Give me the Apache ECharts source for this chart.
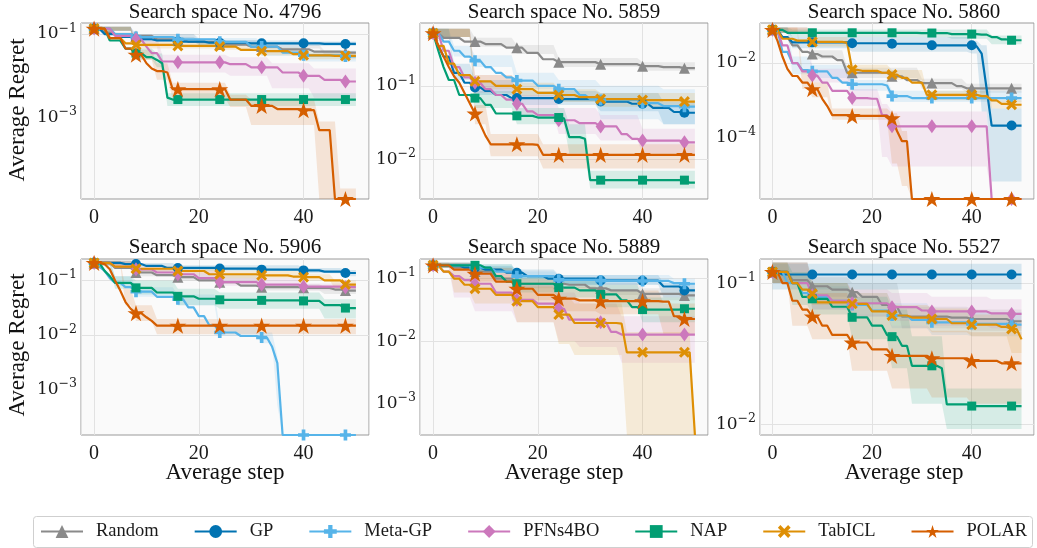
<!DOCTYPE html>
<html>
<head>
<meta charset="utf-8">
<script src="https://cdn.jsdelivr.net/npm/echarts@6.0.0/dist/echarts.min.js"></script>
<style>
html,body{margin:0;padding:0;background:#fff;}
#chart{width:1037px;height:548px;}
</style>
</head>
<body>
<div id="chart"></div>
<script>
// ---------------- data ----------------
const METHODS = ['Random', 'GP', 'Meta-GP', 'PFNs4BO', 'NAP', 'TabICL', 'POLAR'];
const PANELS = [4796, 5859, 5860, 5906, 5889, 5527];
const X_TICKS = [0, 20, 40];
const STEPS = Array.from({length: 51}, (_, i) => i);   // steps 0..50
// y-axis (log) ranges and labelled decades per panel, same order as PANELS
const Y_RANGE = [[1.12e-5, 0.184], [2.88e-3, 0.716], [2.24e-6, 0.119], [1.43e-4, 0.248], [3.12e-4, 0.207], [8.43e-3, 0.148]];
const Y_TICKS = [[1e-1, 1e-3], [1e-1, 1e-2], [1e-2, 1e-4], [1e-1, 1e-2, 1e-3], [1e-1, 1e-2, 1e-3], [1e-1, 1e-2]];

// mean regret: [step from which the value holds, value]
const MEAN_4796 = {
  Random: [[0,0.135],[2,0.11],[4,0.1],[8,0.09],[12,0.075],[18,0.065],[24,0.056],[30,0.05],[36,0.043],[42,0.038],[48,0.036]],
  GP: [[0,0.135],[2,0.1],[5,0.085],[8,0.075],[12,0.07],[16,0.066],[22,0.062],[30,0.06],[44,0.058]],
  'Meta-GP': [[0,0.135],[4,0.1],[8,0.085],[16,0.075],[24,0.065],[30,0.05],[36,0.036],[40,0.031],[48,0.029]],
  PFNs4BO: [[0,0.135],[4,0.09],[8,0.075],[10,0.05],[11,0.035],[13,0.022],[16,0.021],[26,0.019],[30,0.016],[36,0.012],[40,0.01],[44,0.008],[48,0.0073]],
  NAP: [[0,0.135],[3,0.07],[6,0.045],[8,0.035],[10,0.028],[12,0.024],[13,0.02],[14,0.003],[15,0.0027]],
  TabICL: [[0,0.135],[3,0.08],[6,0.06],[8,0.055],[16,0.052],[24,0.05],[28,0.042],[32,0.039],[38,0.033],[40,0.031],[46,0.03]],
  POLAR: [[0,0.135],[3,0.08],[6,0.045],[8,0.032],[10,0.02],[11,0.015],[12,0.013],[14,0.012],[15,0.0048],[26,0.0027],[30,0.0019],[35,0.0016],[40,0.0015],[43,0.0005],[46,1.12e-5]]
};
const MEAN_5859 = {
  Random: [[0,0.52],[2,0.45],[6,0.4],[10,0.37],[14,0.33],[18,0.28],[21,0.23],[24,0.21],[32,0.197],[40,0.185],[44,0.18],[48,0.174]],
  GP: [[0,0.52],[1,0.35],[2,0.25],[4,0.15],[6,0.11],[8,0.095],[10,0.085],[12,0.075],[15,0.068],[24,0.066],[32,0.061],[38,0.057],[42,0.05],[46,0.044],[48,0.043]],
  'Meta-GP': [[0,0.52],[2,0.4],[4,0.3],[6,0.25],[8,0.22],[10,0.18],[12,0.15],[14,0.13],[16,0.118],[20,0.1],[24,0.09],[28,0.075],[30,0.066],[32,0.064],[40,0.058],[44,0.053],[48,0.052]],
  PFNs4BO: [[0,0.52],[2,0.3],[4,0.18],[6,0.13],[8,0.11],[10,0.09],[12,0.075],[14,0.065],[16,0.057],[18,0.045],[20,0.04],[24,0.034],[28,0.031],[32,0.028],[36,0.022],[38,0.019],[40,0.018],[48,0.017]],
  NAP: [[0,0.52],[1,0.3],[2,0.18],[3,0.12],[5,0.075],[8,0.068],[10,0.055],[12,0.042],[16,0.039],[20,0.037],[25,0.036],[26,0.02],[29,0.019],[30,0.0052],[49,0.0048]],
  TabICL: [[0,0.52],[1,0.35],[3,0.2],[5,0.14],[8,0.115],[12,0.1],[16,0.09],[20,0.08],[24,0.075],[28,0.07],[32,0.066],[40,0.064],[48,0.061]],
  POLAR: [[0,0.52],[1,0.35],[2,0.25],[3,0.18],[4,0.135],[5,0.11],[6,0.08],[7,0.058],[8,0.042],[9,0.03],[10,0.021],[11,0.016],[20,0.0157],[21,0.0115]]
};
const MEAN_5860 = {
  Random: [[0,0.078],[2,0.05],[4,0.03],[6,0.02],[8,0.0174],[10,0.015],[13,0.012],[15,0.0055],[24,0.0044],[27,0.0035],[30,0.0029],[37,0.0024],[39,0.0021]],
  GP: [[0,0.078],[2,0.05],[4,0.036],[16,0.034],[24,0.033],[32,0.03],[41,0.028],[42,0.018],[43,0.002],[44,0.00021]],
  'Meta-GP': [[0,0.078],[2,0.02],[4,0.01],[6,0.0065],[8,0.006],[12,0.004],[14,0.003],[16,0.0027],[23,0.0025],[24,0.0013],[28,0.00115]],
  PFNs4BO: [[0,0.078],[2,0.03],[4,0.01],[6,0.006],[8,0.0046],[10,0.003],[12,0.0018],[16,0.00115],[20,0.0011],[22,0.0004],[24,0.0002],[43,0.0002],[44,2.24e-6]],
  NAP: [[0,0.078],[3,0.065],[30,0.064],[36,0.06],[42,0.058],[44,0.05],[46,0.043],[48,0.041]],
  TabICL: [[0,0.078],[2,0.045],[5,0.04],[8,0.037],[15,0.035],[16,0.0066],[18,0.0062],[22,0.0055],[24,0.0049],[26,0.004],[28,0.003],[31,0.0014],[42,0.0013],[44,0.001],[46,0.0008],[48,0.00076]],
  POLAR: [[0,0.078],[1,0.04],[2,0.015],[3,0.007],[4,0.0045],[6,0.003],[8,0.002],[10,0.0011],[11,0.0007],[12,0.0004],[16,0.00038],[24,0.00033],[25,0.00015],[26,0.00008],[28,2.24e-6]]
};
const MEAN_5906 = {
  Random: [[0,0.21],[4,0.17],[8,0.14],[12,0.125],[16,0.115],[20,0.1],[24,0.093],[28,0.08],[32,0.075],[40,0.073],[46,0.068],[48,0.065]],
  GP: [[0,0.21],[6,0.2],[10,0.185],[14,0.17],[24,0.165],[32,0.158],[40,0.153],[44,0.145],[48,0.137]],
  'Meta-GP': [[0,0.21],[1,0.18],[2,0.15],[3,0.11],[4,0.09],[6,0.075],[8,0.062],[12,0.05],[16,0.045],[18,0.032],[20,0.022],[22,0.015],[24,0.011],[28,0.0095],[32,0.0089],[34,0.006],[35,0.003],[36,1.43e-4]],
  PFNs4BO: [[0,0.21],[4,0.18],[8,0.16],[12,0.14],[16,0.13],[20,0.11],[24,0.093],[32,0.084],[40,0.077],[48,0.075]],
  NAP: [[0,0.21],[2,0.15],[3,0.12],[4,0.09],[8,0.073],[12,0.06],[16,0.051],[20,0.046],[24,0.044],[32,0.043],[40,0.042],[44,0.035],[48,0.031]],
  TabICL: [[0,0.21],[4,0.18],[8,0.164],[16,0.149],[22,0.13],[32,0.124],[38,0.118],[40,0.115],[44,0.1],[48,0.084]],
  POLAR: [[0,0.21],[2,0.2],[3,0.16],[4,0.1],[5,0.065],[6,0.04],[7,0.03],[8,0.025],[10,0.021],[11,0.018],[12,0.0147]]
};
const MEAN_5889 = {
  Random: [[0,0.164],[4,0.15],[8,0.13],[12,0.1],[16,0.083],[26,0.08],[30,0.07],[34,0.065],[40,0.057],[48,0.054]],
  GP: [[0,0.164],[6,0.15],[10,0.14],[14,0.125],[18,0.11],[22,0.1],[32,0.094],[40,0.093],[44,0.075],[48,0.065]],
  'Meta-GP': [[0,0.164],[8,0.15],[12,0.13],[16,0.11],[24,0.096],[32,0.093],[40,0.092],[46,0.085],[48,0.083]],
  PFNs4BO: [[0,0.164],[2,0.13],[4,0.11],[6,0.095],[8,0.083],[12,0.06],[16,0.046],[20,0.04],[24,0.033],[26,0.022],[32,0.02],[34,0.014],[36,0.0127]],
  NAP: [[0,0.164],[10,0.15],[12,0.11],[14,0.09],[16,0.083],[24,0.072],[28,0.065],[32,0.056],[36,0.045],[38,0.035],[40,0.032],[48,0.033]],
  TabICL: [[0,0.164],[2,0.13],[4,0.1],[6,0.08],[8,0.069],[12,0.055],[16,0.0436],[20,0.035],[24,0.0266],[27,0.0195],[36,0.019],[37,0.0066],[49,0.0066],[50,3.12e-4]],
  POLAR: [[0,0.164],[4,0.14],[8,0.12],[12,0.09],[16,0.069],[20,0.055],[24,0.048],[28,0.045],[32,0.0436],[44,0.043],[46,0.025],[48,0.0226]]
};
const MEAN_5527 = {
  Random: [[0,0.12],[4,0.105],[8,0.095],[12,0.09],[16,0.0863],[18,0.08],[22,0.07],[24,0.068],[26,0.058],[36,0.057],[40,0.0557],[48,0.0537]],
  GP: [[0,0.12],[2,0.115]],
  'Meta-GP': [[0,0.12],[3,0.1],[6,0.085],[8,0.08],[12,0.075],[16,0.07],[20,0.064],[24,0.059],[28,0.055],[32,0.0528],[40,0.0514],[48,0.0508]],
  PFNs4BO: [[0,0.12],[4,0.1],[8,0.082],[12,0.075],[16,0.072],[24,0.0675],[30,0.064],[32,0.063],[44,0.061],[48,0.0605]],
  NAP: [[0,0.12],[4,0.1],[6,0.08],[8,0.0774],[12,0.068],[16,0.0573],[20,0.05],[23,0.043],[24,0.0418],[26,0.036],[28,0.026],[34,0.025],[35,0.0139],[40,0.0135]],
  TabICL: [[0,0.12],[4,0.1],[6,0.09],[8,0.084],[9,0.073],[16,0.0713],[20,0.063],[24,0.059],[28,0.057],[32,0.0557],[36,0.052],[40,0.0508],[46,0.049],[48,0.0473],[50,0.04]],
  POLAR: [[0,0.12],[2,0.1],[4,0.075],[6,0.065],[8,0.058],[10,0.05],[12,0.043],[16,0.038],[20,0.034],[24,0.0306],[32,0.0294],[40,0.0282],[46,0.0271]]
};

// uncertainty bands: [step from which it holds, lower, upper]
const BAND_4796 = {
  Random: [[0,0.12,0.15],[4,0.09,0.11],[8,0.08,0.1],[20,0.058,0.072],[32,0.045,0.055],[44,0.032,0.04]],
  GP: [[0,0.12,0.15],[8,0.065,0.085],[20,0.055,0.07],[40,0.052,0.066]],
  'Meta-GP': [[0,0.12,0.15],[8,0.07,0.1],[20,0.055,0.08],[32,0.03,0.06],[40,0.022,0.04]],
  PFNs4BO: [[0,0.12,0.15],[8,0.05,0.09],[13,0.012,0.032],[26,0.01,0.028],[34,0.005,0.02],[42,0.003,0.015]],
  NAP: [[0,0.12,0.15],[8,0.025,0.045],[12,0.016,0.034],[14,0.0019,0.0038]],
  TabICL: [[0,0.12,0.15],[8,0.045,0.065],[24,0.042,0.058],[32,0.031,0.047],[40,0.025,0.036]],
  POLAR: [[0,0.12,0.15],[8,0.024,0.042],[12,0.008,0.02],[15,0.0029,0.0068],[26,0.0018,0.0035],[30,0.00066,0.0027],[43,1.12e-5,0.0008],[47,1.12e-5,0.00002]]
};
const BAND_5859 = {
  Random: [[0,0.46,0.6],[8,0.34,0.45],[16,0.27,0.36],[24,0.18,0.24],[40,0.16,0.21]],
  GP: [[0,0.46,0.6],[4,0.12,0.2],[8,0.075,0.12],[16,0.055,0.085],[32,0.045,0.08],[44,0.03,0.06]],
  'Meta-GP': [[0,0.46,0.6],[4,0.25,0.35],[8,0.18,0.26],[16,0.09,0.15],[24,0.06,0.12],[32,0.035,0.1],[44,0.03,0.09]],
  PFNs4BO: [[0,0.46,0.6],[8,0.08,0.14],[16,0.04,0.075],[24,0.022,0.05],[32,0.018,0.04],[40,0.012,0.026]],
  NAP: [[0,0.46,0.6],[8,0.05,0.085],[16,0.03,0.05],[26,0.012,0.03],[30,0.004,0.007]],
  TabICL: [[0,0.46,0.6],[8,0.09,0.14],[16,0.072,0.11],[24,0.06,0.09],[32,0.052,0.08]],
  POLAR: [[0,0.46,0.6],[8,0.03,0.055],[11,0.011,0.022],[21,0.0075,0.016]]
};
const BAND_5860 = {
  Random: [[0,0.065,0.09],[8,0.013,0.022],[15,0.004,0.0075],[30,0.002,0.0038],[39,0.0016,0.0028]],
  GP: [[0,0.065,0.09],[4,0.025,0.05],[16,0.02,0.05],[40,0.018,0.04],[42,0.0005,0.03],[44,0.0000066,0.0006]],
  'Meta-GP': [[0,0.065,0.09],[4,0.005,0.015],[8,0.004,0.009],[16,0.0018,0.0035],[24,0.0009,0.0018]],
  PFNs4BO: [[0,0.065,0.09],[8,0.003,0.007],[16,0.0007,0.002],[22,0.00003,0.0008],[24,0.0000166,0.0005],[44,2.24e-6,2.24e-6]],
  NAP: [[0,0.065,0.09],[4,0.05,0.08],[36,0.045,0.08],[44,0.032,0.055]],
  TabICL: [[0,0.065,0.09],[8,0.028,0.05],[16,0.005,0.009],[24,0.0035,0.0065],[31,0.001,0.0018],[44,0.0006,0.001]],
  POLAR: [[0,0.065,0.09],[6,0.002,0.006],[8,0.0012,0.003],[12,0.0003,0.0006],[24,0.00002,0.00045],[26,0.000005,0.00015],[28,2.24e-6,2.24e-6]]
};
const BAND_5906 = {
  Random: [[0,0.19,0.23],[8,0.12,0.16],[16,0.1,0.13],[32,0.065,0.085],[44,0.056,0.076]],
  GP: [[0,0.19,0.23],[8,0.18,0.21],[16,0.15,0.19],[40,0.135,0.17],[48,0.12,0.155]],
  'Meta-GP': [[0,0.19,0.23],[4,0.08,0.12],[8,0.05,0.075],[16,0.035,0.055],[24,0.0095,0.014],[32,0.007,0.011],[35,0.0005,0.004],[36,1.43e-4,1.43e-4]],
  PFNs4BO: [[0,0.19,0.23],[8,0.14,0.18],[16,0.11,0.15],[24,0.08,0.11],[40,0.066,0.088]],
  NAP: [[0,0.19,0.23],[4,0.07,0.12],[8,0.055,0.1],[16,0.035,0.07],[24,0.03,0.06],[44,0.02,0.045]],
  TabICL: [[0,0.19,0.23],[8,0.145,0.18],[16,0.13,0.17],[24,0.11,0.15],[40,0.1,0.13],[46,0.07,0.1]],
  POLAR: [[0,0.19,0.23],[6,0.035,0.07],[8,0.018,0.035],[12,0.0102,0.0195]]
};
const BAND_5889 = {
  Random: [[0,0.15,0.18],[8,0.11,0.15],[16,0.07,0.1],[32,0.055,0.085],[40,0.045,0.07]],
  GP: [[0,0.15,0.18],[8,0.13,0.16],[16,0.1,0.14],[24,0.08,0.115],[44,0.05,0.085]],
  'Meta-GP': [[0,0.15,0.18],[8,0.13,0.17],[16,0.09,0.13],[24,0.08,0.115],[46,0.07,0.1]],
  PFNs4BO: [[0,0.15,0.18],[4,0.05,0.15],[8,0.03,0.12],[16,0.02,0.08],[24,0.01,0.06],[28,0.008,0.04],[36,0.0045,0.025]],
  NAP: [[0,0.15,0.18],[8,0.13,0.17],[16,0.06,0.11],[24,0.05,0.1],[32,0.035,0.08],[40,0.02,0.05]],
  TabICL: [[0,0.15,0.18],[4,0.06,0.14],[8,0.04,0.11],[16,0.02,0.075],[24,0.009,0.05],[27,0.006,0.04],[37,3.12e-4,0.014],[50,3.12e-4,3.12e-4]],
  POLAR: [[0,0.15,0.18],[8,0.09,0.15],[16,0.045,0.1],[24,0.03,0.075],[32,0.027,0.065],[44,0.013,0.04]]
};
const BAND_5527 = {
  Random: [[0,0.1,0.14],[8,0.08,0.11],[16,0.07,0.1],[26,0.048,0.068],[40,0.046,0.065]],
  GP: [[0,0.09,0.137]],
  'Meta-GP': [[0,0.1,0.14],[8,0.065,0.095],[16,0.058,0.085],[24,0.048,0.072],[32,0.043,0.064],[40,0.042,0.062]],
  PFNs4BO: [[0,0.1,0.14],[8,0.065,0.1],[16,0.058,0.09],[24,0.054,0.085],[32,0.05,0.08],[44,0.048,0.077]],
  NAP: [[0,0.1,0.14],[4,0.07,0.12],[8,0.06,0.1],[16,0.04,0.08],[24,0.025,0.065],[28,0.014,0.042],[35,0.0093,0.018]],
  TabICL: [[0,0.1,0.14],[8,0.07,0.1],[16,0.06,0.085],[24,0.05,0.07],[32,0.045,0.066],[40,0.042,0.06],[48,0.032,0.055]],
  POLAR: [[0,0.1,0.14],[4,0.05,0.1],[8,0.04,0.085],[16,0.024,0.06],[24,0.018,0.05],[32,0.0155,0.046],[40,0.014,0.045]]
};
const MEANS = [MEAN_4796, MEAN_5859, MEAN_5860, MEAN_5906, MEAN_5889, MEAN_5527];
const BANDS = [BAND_4796, BAND_5859, BAND_5860, BAND_5906, BAND_5889, BAND_5527];

// ---------------- style ----------------
const FONT = '"Liberation Serif", "Times New Roman", serif';
const MATH_FONT = '"DejaVu Serif", serif';
const GRID_COLOR = '#e2e2e2';
const COLORS = {Random: '#8a8a8a', GP: '#0173B2', 'Meta-GP': '#56B4E9', PFNs4BO: '#CC78BC', NAP: '#029E73', TabICL: '#DE8F05', POLAR: '#D55E00'};
const SYMBOLS = {
  Random: 'triangle',
  GP: 'circle',
  'Meta-GP': 'path://M3,0H6V3H9V6H6V9H3V6H0V3H3Z',
  PFNs4BO: 'diamond',
  NAP: 'rect',
  TabICL: 'path://M0,2L2,0L5,3L8,0L10,2L7,5L10,8L8,10L5,7L2,10L0,8L3,5Z',
  POLAR: 'path://M50,0L61.2,34.5L97.6,34.5L68.2,55.9L79.4,90.5L50,69.1L20.6,90.5L31.8,55.9L2.4,34.5L38.8,34.5Z'
};
const SIZES = {Random: 11, GP: 10, 'Meta-GP': 11, PFNs4BO: [10, 14], NAP: 9, TabICL: 11, POLAR: 17};
const COL_LEFT = [81, 420, 760];
const ROW_TOP = [23, 259];
const PW = 288, PH = 176;

function hold(cp, k) {
  return STEPS.map(s => { let r = cp[0]; for (const c of cp) if (c[0] <= s) r = c; return r[k]; });
}
function makeLogLabel(ticks) {
  return v => {
    const l = Math.log10(v), r = Math.round(l);
    if (Math.abs(l - r) > 1e-6) return '';
    if (!ticks.some(t => Math.round(Math.log10(t)) === r)) return '';
    return '{b|10}{s|' + (r < 0 ? '\u2212' : '') + Math.abs(r) + '}';
  };
}

const grids = [], xAxes = [], yAxes = [], series = [], graphics = [];
PANELS.forEach((p, pi) => {
  const col = pi % 3, row = Math.floor(pi / 3);
  grids.push({left: COL_LEFT[col], top: ROW_TOP[row], width: PW, height: PH, show: true,
    backgroundColor: '#fafafa', borderColor: '#9a9a9a', borderWidth: 1});
  xAxes.push({gridIndex: pi, type: 'value', min: -2.5, max: 52.5, minInterval: 20, maxInterval: 20,
    axisLine: {show: false}, axisTick: {show: false},
    splitLine: {show: true, lineStyle: {color: GRID_COLOR, width: 1}},
    axisLabel: {formatter: v => X_TICKS.includes(v) ? String(v) : '', fontFamily: FONT, fontSize: 20, color: '#1a1a1a', margin: 9}});
  yAxes.push({gridIndex: pi, type: 'log', logBase: 10, min: Y_RANGE[pi][0], max: Y_RANGE[pi][1],
    axisLine: {show: false}, axisTick: {show: false}, minorTick: {show: false},
    splitLine: {show: false},
    axisLabel: {formatter: makeLogLabel(Y_TICKS[pi]), margin: 4, color: '#1a1a1a',
      rich: {b: {fontFamily: MATH_FONT, fontSize: 17, color: '#1a1a1a', lineHeight: 24},
             s: {fontFamily: MATH_FONT, fontSize: 12.5, color: '#1a1a1a', verticalAlign: 'top', lineHeight: 13}}}});
  // horizontal grid lines at the labelled decades
  series.push({type: 'line', name: '', xAxisIndex: pi, yAxisIndex: pi, z: 1, silent: true, animation: false,
    data: [], markLine: {silent: true, animation: false, symbol: ['none', 'none'], z: 1, label: {show: false},
      lineStyle: {color: GRID_COLOR, width: 1, type: 'solid'}, emphasis: {disabled: true},
      data: Y_TICKS[pi].map(t => ({yAxis: t}))}});
  METHODS.forEach(m => {
    const lo = hold(BANDS[pi][m], 1), hi = hold(BANDS[pi][m], 2);
    series.push({type: 'custom', xAxisIndex: pi, yAxisIndex: pi, z: 2, silent: true, animation: false,
      data: [[0, Y_RANGE[pi][1]]],
      renderItem: (params, api) => {
        const cs = params.coordSys;
        const clampY = y => Math.max(cs.y, Math.min(cs.y + cs.height, y));
        const up = [], dn = [];
        STEPS.forEach((s, i) => {
          const a = api.coord([s, hi[i]]); up.push([a[0], clampY(a[1])]);
          const b = api.coord([s, lo[i]]); dn.push([b[0], clampY(b[1])]);
        });
        return {type: 'polygon', shape: {points: up.concat(dn.reverse())},
          style: {fill: COLORS[m], opacity: 0.14}};
      }});
  });
  METHODS.forEach(m => {
    const vals = hold(MEANS[pi][m], 1);
    series.push({type: 'line', name: m, xAxisIndex: pi, yAxisIndex: pi, z: 3, silent: true, animation: false,
      data: STEPS.map((s, i) => [s, vals[i]]),
      symbol: SYMBOLS[m], symbolKeepAspect: true, showSymbol: true, showAllSymbol: true,
      symbolSize: (v, params) => params.dataIndex % 8 === 0 ? SIZES[m] : 0,
      lineStyle: {width: 2.2, color: COLORS[m]}, itemStyle: {color: COLORS[m]},
      emphasis: {disabled: true}});
  });
  graphics.push({type: 'text', x: COL_LEFT[col] + PW / 2, y: row === 0 ? 12.5 : 247,
    style: {text: 'Search space No. ' + p, font: '21px ' + FONT, fill: '#111', textAlign: 'center', textVerticalAlign: 'middle', verticalAlign: 'middle'}});
  if (row === 1) graphics.push({type: 'text', x: COL_LEFT[col] + PW / 2, y: 473,
    style: {text: 'Average step', font: '23px ' + FONT, fill: '#111', textAlign: 'center', textVerticalAlign: 'middle', verticalAlign: 'middle'}});
  if (col === 0) graphics.push({type: 'text', x: 17.5, y: row === 0 ? 110 : 345, rotation: Math.PI / 2,
    style: {text: 'Average Regret', font: '23px ' + FONT, fill: '#111', textAlign: 'center', textVerticalAlign: 'middle', verticalAlign: 'middle'}});
});
graphics.push({type: 'rect', z: -1, shape: {x: 33.5, y: 516.5, width: 999, height: 31, r: 3},
  style: {fill: '#ffffff', stroke: '#cfcfcf', lineWidth: 1}});

const chart = echarts.init(document.getElementById('chart'), null, {renderer: 'canvas'});
chart.setOption({
  backgroundColor: '#ffffff',
  animation: false,
  grid: grids, xAxis: xAxes, yAxis: yAxes, series: series,
  graphic: graphics,
  legend: {data: METHODS, left: 40, top: 522, width: 997, itemWidth: 42, itemHeight: 16, itemGap: 35, padding: 0,
    selectedMode: false, textStyle: {fontFamily: FONT, fontSize: 18.5, color: '#1a1a1a', padding: [0, 0, 0, 8]}}
});
</script>
</body>
</html>
